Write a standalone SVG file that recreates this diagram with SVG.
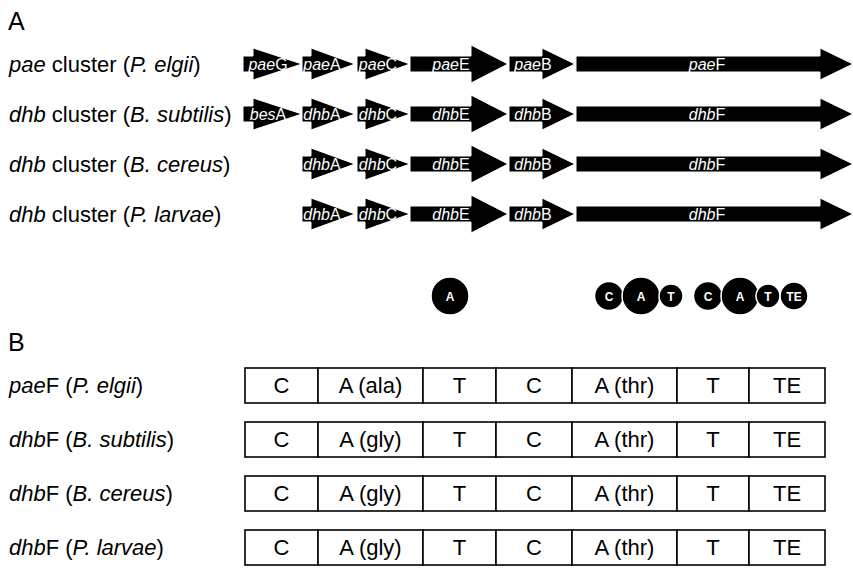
<svg xmlns="http://www.w3.org/2000/svg" width="853" height="585" viewBox="0 0 853 585">
<style>
.lbl{font-family:"Liberation Sans",Arial,sans-serif;font-size:22px;fill:#000}
.it{font-style:italic}
.panel{font-family:"Liberation Sans",Arial,sans-serif;font-size:25px;fill:#000}
.gene{fill:#000;stroke:#fff;stroke-width:1}
.gt{font-family:"Liberation Sans",Arial,sans-serif;font-size:16px;fill:#fff;text-anchor:middle}
.dom{fill:#000;stroke:#fff;stroke-width:1.5}
.dt{font-family:"Liberation Sans",Arial,sans-serif;font-size:12px;font-weight:bold;fill:#fff;text-anchor:middle}
.cell{fill:#fff;stroke:#000;stroke-width:1.6}
.ct{font-family:"Liberation Sans",Arial,sans-serif;font-size:22px;fill:#000;text-anchor:middle}
</style>
<rect width="853" height="585" fill="#fff"/>
<text class="panel" x="8" y="30">A</text>
<text class="panel" x="8" y="351">B</text>

<g id="row-pae">
<text class="lbl" x="9" y="72"><tspan class="it">pae</tspan> cluster (<tspan class="it">P. elgii</tspan>)</text>
<g id="paeG"><polygon class="gene" points="243,56 253,56 253,48 302,64 253,80 253,72 243,72"/><text class="gt" x="268" y="70"><tspan class="it">pae</tspan>G</text></g>
<g id="paeA"><polygon class="gene" points="302,56 311,56 311,48 355,64 311,80 311,72 302,72"/><text class="gt" x="322" y="70"><tspan class="it">pae</tspan>A</text></g>
<g id="paeC"><polygon class="gene" points="357,56 365,56 365,48 410,64 365,80 365,72 357,72"/><text class="gt" x="378" y="70"><tspan class="it">pae</tspan>C</text></g>
<g id="paeE"><polygon class="gene" points="410,56 471,56 471,45 508,64 471,83 471,72 410,72"/><text class="gt" x="451" y="70"><tspan class="it">pae</tspan>E</text></g>
<g id="paeB"><polygon class="gene" points="509,56 542,56 542,48 575,64 542,80 542,72 509,72"/><text class="gt" x="533" y="70"><tspan class="it">pae</tspan>B</text></g>
<g id="paeF"><polygon class="gene" points="576,56 820,56 820,48 853,64 820,80 820,72 576,72"/><text class="gt" x="707" y="70"><tspan class="it">pae</tspan>F</text></g>
</g>

<g id="row-dhb-subtilis">
<text class="lbl" x="9" y="122"><tspan class="it">dhb</tspan> cluster (<tspan class="it">B. subtilis</tspan>)</text>
<g id="besA"><polygon class="gene" points="243,106 253,106 253,98 302,114 253,130 253,122 243,122"/><text class="gt" x="268" y="120"><tspan class="it">bes</tspan>A</text></g>
<g id="dhbA-1"><polygon class="gene" points="302,106 311,106 311,98 355,114 311,130 311,122 302,122"/><text class="gt" x="322" y="120"><tspan class="it">dhb</tspan>A</text></g>
<g id="dhbC-1"><polygon class="gene" points="357,106 365,106 365,98 410,114 365,130 365,122 357,122"/><text class="gt" x="378" y="120"><tspan class="it">dhb</tspan>C</text></g>
<g id="dhbE-1"><polygon class="gene" points="410,106 471,106 471,95 508,114 471,133 471,122 410,122"/><text class="gt" x="451" y="120"><tspan class="it">dhb</tspan>E</text></g>
<g id="dhbB-1"><polygon class="gene" points="509,106 542,106 542,98 575,114 542,130 542,122 509,122"/><text class="gt" x="533" y="120"><tspan class="it">dhb</tspan>B</text></g>
<g id="dhbF-1"><polygon class="gene" points="576,106 820,106 820,98 853,114 820,130 820,122 576,122"/><text class="gt" x="707" y="120"><tspan class="it">dhb</tspan>F</text></g>
</g>

<g id="row-dhb-cereus">
<text class="lbl" x="9" y="172"><tspan class="it">dhb</tspan> cluster (<tspan class="it">B. cereus</tspan>)</text>
<g id="dhbA-2"><polygon class="gene" points="302,156 311,156 311,148 355,164 311,180 311,172 302,172"/><text class="gt" x="322" y="170"><tspan class="it">dhb</tspan>A</text></g>
<g id="dhbC-2"><polygon class="gene" points="357,156 365,156 365,148 410,164 365,180 365,172 357,172"/><text class="gt" x="378" y="170"><tspan class="it">dhb</tspan>C</text></g>
<g id="dhbE-2"><polygon class="gene" points="410,156 471,156 471,145 508,164 471,183 471,172 410,172"/><text class="gt" x="451" y="170"><tspan class="it">dhb</tspan>E</text></g>
<g id="dhbB-2"><polygon class="gene" points="509,156 542,156 542,148 575,164 542,180 542,172 509,172"/><text class="gt" x="533" y="170"><tspan class="it">dhb</tspan>B</text></g>
<g id="dhbF-2"><polygon class="gene" points="576,156 820,156 820,148 853,164 820,180 820,172 576,172"/><text class="gt" x="707" y="170"><tspan class="it">dhb</tspan>F</text></g>
</g>

<g id="row-dhb-larvae">
<text class="lbl" x="9" y="222"><tspan class="it">dhb</tspan> cluster (<tspan class="it">P. larvae</tspan>)</text>
<g id="dhbA-3"><polygon class="gene" points="302,206 311,206 311,198 355,214 311,230 311,222 302,222"/><text class="gt" x="322" y="220"><tspan class="it">dhb</tspan>A</text></g>
<g id="dhbC-3"><polygon class="gene" points="357,206 365,206 365,198 410,214 365,230 365,222 357,222"/><text class="gt" x="378" y="220"><tspan class="it">dhb</tspan>C</text></g>
<g id="dhbE-3"><polygon class="gene" points="410,206 471,206 471,195 508,214 471,233 471,222 410,222"/><text class="gt" x="451" y="220"><tspan class="it">dhb</tspan>E</text></g>
<g id="dhbB-3"><polygon class="gene" points="509,206 542,206 542,198 575,214 542,230 542,222 509,222"/><text class="gt" x="533" y="220"><tspan class="it">dhb</tspan>B</text></g>
<g id="dhbF-3"><polygon class="gene" points="576,206 820,206 820,198 853,214 820,230 820,222 576,222"/><text class="gt" x="707" y="220"><tspan class="it">dhb</tspan>F</text></g>
</g>

<g id="domains">
<g id="dom-A-E"><circle class="dom" cx="450" cy="296" r="19"/><text class="dt" x="450" y="300.5">A</text></g>
<g id="dom-C1"><circle class="dom" cx="609" cy="296" r="14.5"/><text class="dt" x="609" y="300.5">C</text></g>
<g id="dom-A1"><circle class="dom" cx="641" cy="296" r="19"/><text class="dt" x="641" y="300.5">A</text></g>
<g id="dom-T1"><circle class="dom" cx="671" cy="296" r="12"/><text class="dt" x="671" y="300.5">T</text></g>
<g id="dom-C2"><circle class="dom" cx="708" cy="296" r="14.5"/><text class="dt" x="708" y="300.5">C</text></g>
<g id="dom-A2"><circle class="dom" cx="740" cy="296" r="19"/><text class="dt" x="740" y="300.5">A</text></g>
<g id="dom-T2"><circle class="dom" cx="768" cy="296" r="12"/><text class="dt" x="768" y="300.5">T</text></g>
<g id="dom-TE"><circle class="dom" cx="794" cy="296" r="14"/><text class="dt" x="794" y="300.5">TE</text></g>
</g>

<g id="table-pae">
<text class="lbl" x="9" y="393"><tspan class="it">pae</tspan>F (<tspan class="it">P. elgii</tspan>)</text>
<rect class="cell" x="245" y="368" width="73" height="35"/><text class="ct" x="281.5" y="393">C</text>
<rect class="cell" x="318" y="368" width="105" height="35"/><text class="ct" x="370.5" y="393">A (ala)</text>
<rect class="cell" x="423" y="368" width="73" height="35"/><text class="ct" x="459.5" y="393">T</text>
<rect class="cell" x="496" y="368" width="76" height="35"/><text class="ct" x="534" y="393">C</text>
<rect class="cell" x="572" y="368" width="105" height="35"/><text class="ct" x="624.5" y="393">A (thr)</text>
<rect class="cell" x="677" y="368" width="72" height="35"/><text class="ct" x="713" y="393">T</text>
<rect class="cell" x="749" y="368" width="76" height="35"/><text class="ct" x="787" y="393">TE</text>
</g>

<g id="table-subtilis">
<text class="lbl" x="9" y="447"><tspan class="it">dhb</tspan>F (<tspan class="it">B. subtilis</tspan>)</text>
<rect class="cell" x="245" y="422" width="73" height="35"/><text class="ct" x="281.5" y="447">C</text>
<rect class="cell" x="318" y="422" width="105" height="35"/><text class="ct" x="370.5" y="447">A (gly)</text>
<rect class="cell" x="423" y="422" width="73" height="35"/><text class="ct" x="459.5" y="447">T</text>
<rect class="cell" x="496" y="422" width="76" height="35"/><text class="ct" x="534" y="447">C</text>
<rect class="cell" x="572" y="422" width="105" height="35"/><text class="ct" x="624.5" y="447">A (thr)</text>
<rect class="cell" x="677" y="422" width="72" height="35"/><text class="ct" x="713" y="447">T</text>
<rect class="cell" x="749" y="422" width="76" height="35"/><text class="ct" x="787" y="447">TE</text>
</g>

<g id="table-cereus">
<text class="lbl" x="9" y="501"><tspan class="it">dhb</tspan>F (<tspan class="it">B. cereus</tspan>)</text>
<rect class="cell" x="245" y="476" width="73" height="35"/><text class="ct" x="281.5" y="501">C</text>
<rect class="cell" x="318" y="476" width="105" height="35"/><text class="ct" x="370.5" y="501">A (gly)</text>
<rect class="cell" x="423" y="476" width="73" height="35"/><text class="ct" x="459.5" y="501">T</text>
<rect class="cell" x="496" y="476" width="76" height="35"/><text class="ct" x="534" y="501">C</text>
<rect class="cell" x="572" y="476" width="105" height="35"/><text class="ct" x="624.5" y="501">A (thr)</text>
<rect class="cell" x="677" y="476" width="72" height="35"/><text class="ct" x="713" y="501">T</text>
<rect class="cell" x="749" y="476" width="76" height="35"/><text class="ct" x="787" y="501">TE</text>
</g>

<g id="table-larvae">
<text class="lbl" x="9" y="555"><tspan class="it">dhb</tspan>F (<tspan class="it">P. larvae</tspan>)</text>
<rect class="cell" x="245" y="530" width="73" height="35"/><text class="ct" x="281.5" y="555">C</text>
<rect class="cell" x="318" y="530" width="105" height="35"/><text class="ct" x="370.5" y="555">A (gly)</text>
<rect class="cell" x="423" y="530" width="73" height="35"/><text class="ct" x="459.5" y="555">T</text>
<rect class="cell" x="496" y="530" width="76" height="35"/><text class="ct" x="534" y="555">C</text>
<rect class="cell" x="572" y="530" width="105" height="35"/><text class="ct" x="624.5" y="555">A (thr)</text>
<rect class="cell" x="677" y="530" width="72" height="35"/><text class="ct" x="713" y="555">T</text>
<rect class="cell" x="749" y="530" width="76" height="35"/><text class="ct" x="787" y="555">TE</text>
</g>
</svg>
